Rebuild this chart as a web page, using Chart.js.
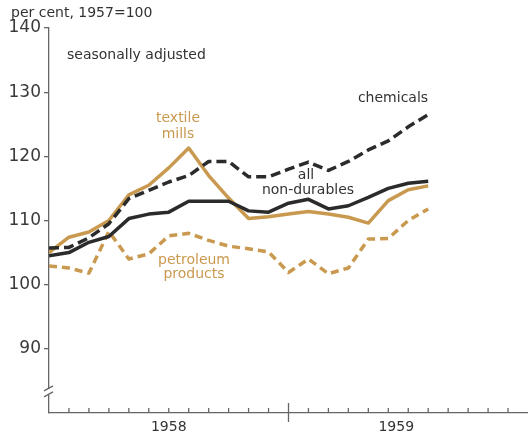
<!DOCTYPE html>
<html>
<head>
<meta charset="utf-8">
<script src="https://cdn.jsdelivr.net/npm/chart.js@4.4.1/dist/chart.umd.min.js"></script>
<style>
  html, body { margin: 0; padding: 0; background: #fff; }
  #wrap { width: 528px; height: 434px; }
</style>
</head>
<body>
<div id="wrap"><canvas id="myChart" width="528" height="434"></canvas></div>
<script>
// monthly points, Jan 1958 .. Aug 1959
var months = ["Jan 58","Feb 58","Mar 58","Apr 58","May 58","Jun 58","Jul 58","Aug 58","Sep 58","Oct 58","Nov 58","Dec 58",
              "Jan 59","Feb 59","Mar 59","Apr 59","May 59","Jun 59","Jul 59","Aug 59"];
var allNonDurables = [104.5,105.0,106.6,107.5,110.3,111.0,111.3,113.0,113.0,113.0,111.5,111.3,112.7,113.3,111.8,112.3,113.6,115.0,115.8,116.1];
var chemicals      = [105.7,105.8,107.3,109.5,113.4,114.7,116.0,117.0,119.2,119.2,116.8,116.8,118.0,119.1,117.8,119.2,121.0,122.4,124.6,126.5];
var textileMills   = [105.0,107.4,108.2,110.0,114.0,115.5,118.2,121.3,117.0,113.5,110.3,110.6,111.0,111.4,111.0,110.5,109.6,113.1,114.8,115.4];
var petroleum      = [102.9,102.6,101.8,108.3,104.0,104.8,107.6,108.0,106.9,106.0,105.6,105.1,101.9,104.0,101.7,102.6,107.1,107.2,110.0,111.8];
var yTicks = [90,100,110,120,130,140];
var years = ["1958","1959"];

var tan = "#c9994f";
var dark = "#2b2b2b";
var axisColor = "#666";

function pts(arr) {
  return arr.map(function(v, i) { return {x: i, y: v}; });
}

var decor = {
  id: "decor",
  afterDraw: function(chart) {
    var ctx = chart.ctx, xs = chart.scales.x, ys = chart.scales.y;
    var y0 = ys.getPixelForValue(80);
    ctx.save();
    ctx.strokeStyle = axisColor;
    ctx.lineWidth = 1.3;
    // month ticks pointing up
    for (var m = 1; m < 24; m++) {
      var px = xs.getPixelForValue(m);
      ctx.beginPath();
      if (m === 12) { ctx.moveTo(px, y0 - 10); ctx.lineTo(px, y0 + 9); }
      else { ctx.moveTo(px, y0 - 5); ctx.lineTo(px, y0); }
      ctx.stroke();
    }
    // axis break
    var yb = ys.getPixelForValue(83.3);
    var ax = xs.left;
    ctx.fillStyle = "#fff";
    ctx.fillRect(ax - 2, yb - 3, 4, 6);
    ctx.beginPath();
    ctx.moveTo(ax - 5, yb - 1); ctx.lineTo(ax + 4, yb - 6);
    ctx.moveTo(ax - 5, yb + 5); ctx.lineTo(ax + 4, yb);
    ctx.stroke();

    // texts
    ctx.fillStyle = "#333";
    ctx.textBaseline = "middle";
    ctx.font = "14px 'DejaVu Sans'";
    ctx.textAlign = "left";
    ctx.fillText("per cent, 1957=100", 11, 13);
    ctx.fillText("seasonally adjusted", 67, 55);
    ctx.textAlign = "center";
    ctx.fillText(years[0], xs.getPixelForValue(6), 427);
    ctx.fillText(years[1], xs.getPixelForValue(17.4), 427);
    ctx.fillText("chemicals", 393, 98);
    ctx.fillText("all", 306, 175);
    ctx.fillText("non-durables", 308, 190);
    ctx.fillStyle = tan;
    ctx.fillText("textile", 178, 118);
    ctx.fillText("mills", 178, 134);
    ctx.fillText("petroleum", 194, 260);
    ctx.fillText("products", 194, 274);
    ctx.restore();
  }
};

new Chart("myChart", {
  type: "line",
  data: {
    labels: months,
    datasets: [
      { label: "chemicals", data: pts(chemicals), borderColor: dark, borderWidth: 3.5, borderDash: [10, 5] },
      { label: "all non-durables", data: pts(allNonDurables), borderColor: dark, borderWidth: 3.5 },
      { label: "textile mills", data: pts(textileMills), borderColor: tan, borderWidth: 3.5 },
      { label: "petroleum products", data: pts(petroleum), borderColor: tan, borderWidth: 3.5, borderDash: [8, 5] }
    ]
  },
  options: {
    responsive: false,
    animation: false,
    events: [],
    elements: { point: { radius: 0 }, line: { tension: 0, borderCapStyle: "butt", borderJoinStyle: "round" } },
    layout: { padding: { top: 28, right: 0, left: 0, bottom: 0 } },
    plugins: { legend: { display: false }, tooltip: { enabled: false } },
    scales: {
      x: {
        type: "linear", min: 0, max: 24,
        ticks: { display: false },
        grid: { display: false, drawTicks: false },
        border: { display: true, color: axisColor, width: 1.3 },
        afterFit: function(s) { s.height = 21; }
      },
      y: {
        min: 80, max: 140,
        afterBuildTicks: function(s) { s.ticks = yTicks.map(function(v) { return {value: v}; }); },
        ticks: { color: "#3a3a3a", font: { family: "DejaVu Sans", size: 17 }, padding: 3 },
        grid: { drawOnChartArea: false, drawTicks: true, tickLength: 5, color: axisColor, lineWidth: 1.3 },
        border: { display: true, color: axisColor, width: 1.3 },
        afterFit: function(s) { s.width = 49; }
      }
    }
  },
  plugins: [decor]
});
</script>
</body>
</html>
